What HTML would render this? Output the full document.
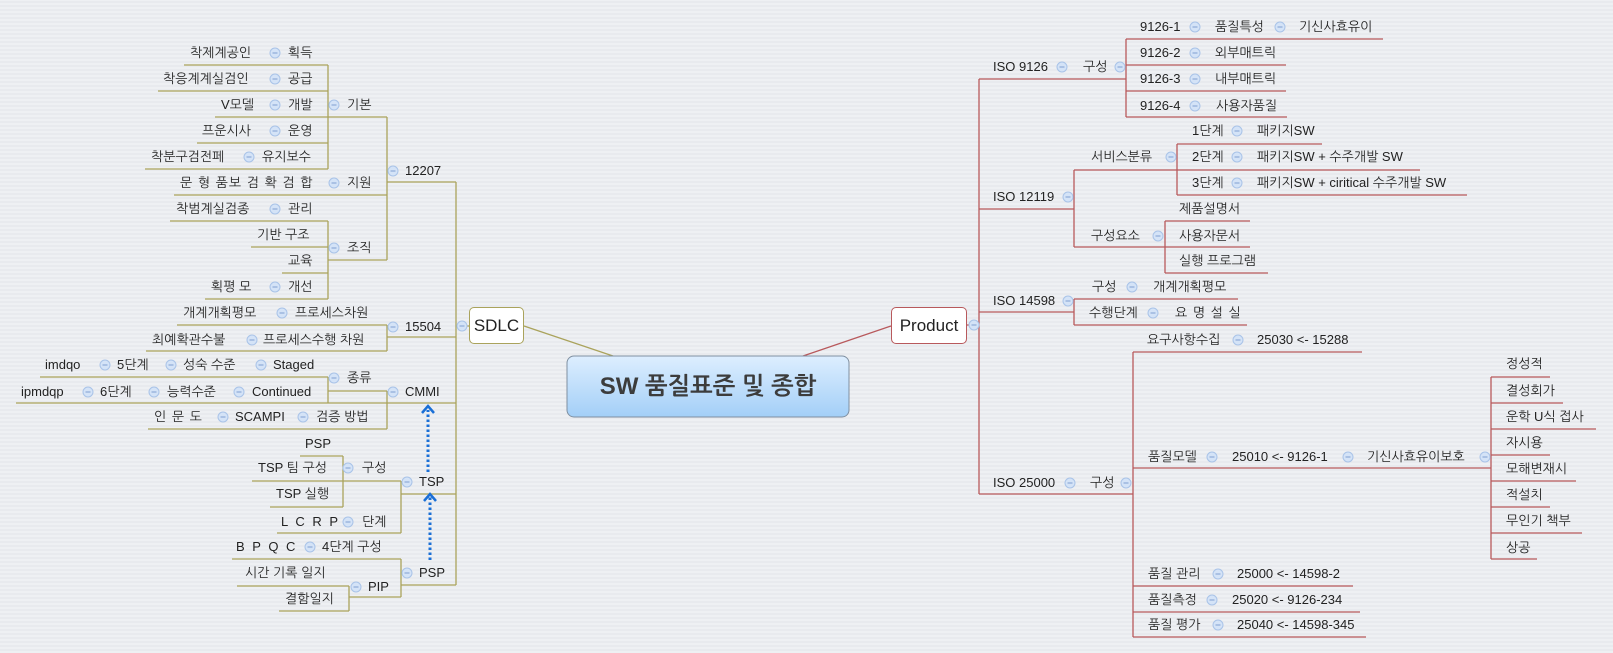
<!DOCTYPE html>
<html><head><meta charset="utf-8">
<style>
html,body{margin:0;padding:0}
body{width:1613px;height:653px;overflow:hidden;position:relative;
background:#eceef2;background-image:repeating-linear-gradient(0deg,#eef0f3 0px,#eef0f3 2px,#e8eaee 2px,#e8eaee 4px);
font-family:"Liberation Sans","NanumGothic","Noto Sans CJK KR",sans-serif;}
.t{position:absolute;font-size:13px;line-height:18px;height:18px;margin-top:-9px;white-space:nowrap;color:#222}
.sp{letter-spacing:1px}
.box{position:absolute;background:#fff;border-radius:5px;font-size:17px;color:#222;text-align:center;box-sizing:border-box}
svg{position:absolute;left:0;top:0}
</style></head><body>
<svg width="1613" height="653">
<g stroke="#aaa35c" stroke-width="1.3" fill="none">
<path d="M184 65H328M158 91H328M215 117H387M197 143H328M145 169H328M174 195H387M170 221H328M251 247H328M282 273H328M205 299H328M328 260H387M387 182H456M177 325H387M387 337H456M146 351H387M40 377H328M16 403H456M328 391H387M148 429H387M300 456H343M252 481H401M270 507H343M277 533H401M401 494H456M232 559H401M237 586H349M349 597H401M279 611H349M401 585H456M456 326H469"/>
<path d="M328 65V169M328 221V299M387 117V260M387 325V351M328 377V403M387 391V429M343 456V507M401 481V533M349 586V611M401 559V597M456 182V585"/>
<path d="M524 326L613 356"/>
</g>
<g stroke="#b8595c" stroke-width="1.3" fill="none">
<path d="M979 79H1126M1126 39H1383M1126 65H1286M1126 91H1286M1126 117H1287M979 209H1074M1074 170H1420M1177 144H1322M1177 195H1467M1074 247H1250M1165 221H1250M1165 273H1268M979 312H1074M1074 299H1238M1074 325H1247M979 494H1133M1133 352H1362M1133 468H1491M1491 377H1550M1491 403H1563M1491 429H1596M1491 455H1550M1491 481H1576M1491 507H1550M1491 533H1582M1491 559H1537M1133 586H1353M1133 612H1360M1133 637H1366M967 325H979"/>
<path d="M979 79V494M1126 39V117M1074 170V247M1177 144V195M1165 221V273M1074 299V325M1133 352V637M1491 377V559"/>
<path d="M891 326L803 356"/>
</g>
<g stroke="#1a6fd6" stroke-width="3" fill="none">
<path d="M430 560V497M428 472V410" stroke-dasharray="2.5 2.5"/>
<path d="M424 501L430 494L436 501M422 413L428 406L434 413" stroke-width="2.5"/>
</g>
<defs>
<linearGradient id="cg" x1="0" y1="0" x2="0" y2="1"><stop offset="0" stop-color="#ddeeff"/><stop offset="1" stop-color="#a3cff7"/></linearGradient>
<g id="c"><circle r="5" fill="#d4e3f7" stroke="#a9c3e8" stroke-width="1"/><path d="M-2.5 0H2.5" stroke="#7f9fd0" stroke-width="1"/></g>
</defs>
<rect x="567" y="356" width="282" height="61" rx="7" fill="url(#cg)" stroke="#7f8fa0" stroke-width="1"/>
<g>
<use href="#c" x="275" y="53"/><use href="#c" x="275" y="79"/><use href="#c" x="275" y="105"/><use href="#c" x="334" y="105"/><use href="#c" x="275" y="131"/><use href="#c" x="249" y="157"/><use href="#c" x="334" y="183"/><use href="#c" x="275" y="209"/><use href="#c" x="334" y="248"/><use href="#c" x="275" y="287"/><use href="#c" x="393" y="171"/><use href="#c" x="282" y="313"/><use href="#c" x="252" y="340"/><use href="#c" x="393" y="327"/><use href="#c" x="105" y="365"/><use href="#c" x="171" y="365"/><use href="#c" x="261" y="365"/><use href="#c" x="88" y="392"/><use href="#c" x="154" y="392"/><use href="#c" x="239" y="392"/><use href="#c" x="334" y="378"/><use href="#c" x="223" y="417"/><use href="#c" x="303" y="417"/><use href="#c" x="393" y="392"/><use href="#c" x="348" y="468"/><use href="#c" x="348" y="522"/><use href="#c" x="407" y="482"/><use href="#c" x="310" y="547"/><use href="#c" x="356" y="587"/><use href="#c" x="407" y="573"/><use href="#c" x="462" y="326"/>
<use href="#c" x="1062" y="67"/><use href="#c" x="1120" y="67"/><use href="#c" x="1195" y="27"/><use href="#c" x="1280" y="27"/><use href="#c" x="1195" y="53"/><use href="#c" x="1195" y="79"/><use href="#c" x="1195" y="106"/><use href="#c" x="1068" y="197"/><use href="#c" x="1171" y="157"/><use href="#c" x="1237" y="131"/><use href="#c" x="1237" y="157"/><use href="#c" x="1237" y="183"/><use href="#c" x="1158" y="236"/><use href="#c" x="1068" y="301"/><use href="#c" x="1132" y="287"/><use href="#c" x="1153" y="313"/><use href="#c" x="1070" y="483"/><use href="#c" x="1126" y="483"/><use href="#c" x="1238" y="340"/><use href="#c" x="1212" y="457"/><use href="#c" x="1348" y="457"/><use href="#c" x="1485" y="457"/><use href="#c" x="1218" y="574"/><use href="#c" x="1212" y="600"/><use href="#c" x="1218" y="625"/><use href="#c" x="974" y="325"/>
</g>
</svg>

<div class="box" style="left:469px;top:307px;width:55px;height:37px;line-height:35px;border:1px solid #aaa35c">SDLC</div>
<div class="box" style="left:891px;top:307px;width:76px;height:37px;line-height:35px;border:1px solid #b8595c">Product</div>
<div style="position:absolute;left:567px;top:356px;width:282px;height:61px;line-height:61px;text-align:center;font-size:24px;font-weight:bold;color:#3c3c3c;font-family:'Liberation Sans','NanumGothic','Noto Sans CJK KR',sans-serif">SW 품질표준 및 종합</div>

<div class="t" style="left:190px;top:53px">착제계공인</div><div class="t" style="left:288px;top:53px">획득</div>
<div class="t" style="left:163px;top:79px">착응계계실검인</div><div class="t" style="left:288px;top:79px">공급</div>
<div class="t" style="left:221px;top:105px">V모델</div><div class="t" style="left:288px;top:105px">개발</div><div class="t" style="left:347px;top:105px">기본</div>
<div class="t" style="left:202px;top:131px">프운시사</div><div class="t" style="left:288px;top:131px">운영</div>
<div class="t" style="left:151px;top:157px">착분구검전페</div><div class="t" style="left:262px;top:157px">유지보수</div>
<div class="t sp" style="left:180px;top:183px">문 형 품보 검 확 검 합</div><div class="t" style="left:347px;top:183px">지원</div>
<div class="t" style="left:405px;top:171px">12207</div>
<div class="t" style="left:176px;top:209px">착범계실검종</div><div class="t" style="left:288px;top:209px">관리</div>
<div class="t" style="left:257px;top:235px">기반 구조</div>
<div class="t" style="left:288px;top:261px">교육</div>
<div class="t" style="left:347px;top:248px">조직</div>
<div class="t" style="left:211px;top:287px">획평 모</div><div class="t" style="left:288px;top:287px">개선</div>
<div class="t" style="left:183px;top:313px">개계개획평모</div><div class="t" style="left:295px;top:313px">프로세스차원</div>
<div class="t" style="left:405px;top:327px">15504</div>
<div class="t" style="left:152px;top:340px">최예확관수불</div><div class="t" style="left:263px;top:340px">프로세스수행 차원</div>
<div class="t" style="left:45px;top:365px">imdqo</div><div class="t" style="left:117px;top:365px">5단계</div><div class="t" style="left:183px;top:365px">성숙 수준</div><div class="t" style="left:273px;top:365px">Staged</div>
<div class="t" style="left:347px;top:378px">종류</div>
<div class="t" style="left:21px;top:392px">ipmdqp</div><div class="t" style="left:100px;top:392px">6단계</div><div class="t" style="left:167px;top:392px">능력수준</div><div class="t" style="left:252px;top:392px">Continued</div>
<div class="t" style="left:405px;top:392px">CMMI</div>
<div class="t sp" style="left:154px;top:417px">인 문 도</div><div class="t" style="left:235px;top:417px">SCAMPI</div><div class="t" style="left:316px;top:417px">검증 방법</div>
<div class="t" style="left:305px;top:444px">PSP</div>
<div class="t" style="left:258px;top:468px">TSP 팀 구성</div><div class="t" style="left:362px;top:468px">구성</div>
<div class="t" style="left:276px;top:494px">TSP 실행</div>
<div class="t" style="left:419px;top:482px">TSP</div>
<div class="t" style="left:281px;top:522px;letter-spacing:2px">L C R P</div><div class="t" style="left:362px;top:522px">단계</div>
<div class="t" style="left:236px;top:547px;letter-spacing:2px">B P Q C</div><div class="t" style="left:322px;top:547px">4단계 구성</div>
<div class="t" style="left:245px;top:573px">시간 기록 일지</div>
<div class="t" style="left:419px;top:573px">PSP</div>
<div class="t" style="left:368px;top:587px">PIP</div>
<div class="t" style="left:285px;top:599px">결함일지</div>

<div class="t" style="left:993px;top:67px">ISO 9126</div><div class="t" style="left:1083px;top:67px">구성</div>
<div class="t" style="left:1140px;top:27px">9126-1</div><div class="t" style="left:1215px;top:27px">품질특성</div><div class="t" style="left:1299px;top:27px">기신사효유이</div>
<div class="t" style="left:1140px;top:53px">9126-2</div><div class="t" style="left:1215px;top:53px">외부매트릭</div>
<div class="t" style="left:1140px;top:79px">9126-3</div><div class="t" style="left:1215px;top:79px">내부매트릭</div>
<div class="t" style="left:1140px;top:106px">9126-4</div><div class="t" style="left:1216px;top:106px">사용자품질</div>
<div class="t" style="left:993px;top:197px">ISO 12119</div>
<div class="t" style="left:1091px;top:157px">서비스분류</div>
<div class="t" style="left:1192px;top:131px">1단계</div><div class="t" style="left:1257px;top:131px">패키지SW</div>
<div class="t" style="left:1192px;top:157px">2단계</div><div class="t" style="left:1257px;top:157px">패키지SW + 수주개발 SW</div>
<div class="t" style="left:1192px;top:183px">3단계</div><div class="t" style="left:1257px;top:183px">패키지SW + ciritical 수주개발 SW</div>
<div class="t" style="left:1091px;top:236px">구성요소</div>
<div class="t" style="left:1179px;top:209px">제품설명서</div><div class="t" style="left:1179px;top:236px">사용자문서</div><div class="t" style="left:1179px;top:261px">실행 프로그램</div>
<div class="t" style="left:993px;top:301px">ISO 14598</div>
<div class="t" style="left:1092px;top:287px">구성</div><div class="t" style="left:1153px;top:287px">개계개획평모</div>
<div class="t" style="left:1089px;top:313px">수행단계</div><div class="t sp" style="left:1175px;top:313px">요 명 설 실</div>
<div class="t" style="left:993px;top:483px">ISO 25000</div><div class="t" style="left:1090px;top:483px">구성</div>
<div class="t" style="left:1147px;top:340px">요구사항수집</div><div class="t" style="left:1257px;top:340px">25030 &lt;- 15288</div>
<div class="t" style="left:1148px;top:457px">품질모델</div><div class="t" style="left:1232px;top:457px">25010 &lt;- 9126-1</div><div class="t" style="left:1367px;top:457px">기신사효유이보호</div>
<div class="t" style="left:1506px;top:364px">정성적</div>
<div class="t" style="left:1506px;top:391px">결성회가</div>
<div class="t" style="left:1506px;top:417px">운학 U식 접사</div>
<div class="t" style="left:1506px;top:443px">자시용</div>
<div class="t" style="left:1506px;top:469px">모해변재시</div>
<div class="t" style="left:1506px;top:495px">적설치</div>
<div class="t" style="left:1506px;top:521px">무인기 책부</div>
<div class="t" style="left:1506px;top:548px">상공</div>
<div class="t" style="left:1148px;top:574px">품질 관리</div><div class="t" style="left:1237px;top:574px">25000 &lt;- 14598-2</div>
<div class="t" style="left:1148px;top:600px">품질측정</div><div class="t" style="left:1232px;top:600px">25020 &lt;- 9126-234</div>
<div class="t" style="left:1148px;top:625px">품질 평가</div><div class="t" style="left:1237px;top:625px">25040 &lt;- 14598-345</div>
</body></html>
